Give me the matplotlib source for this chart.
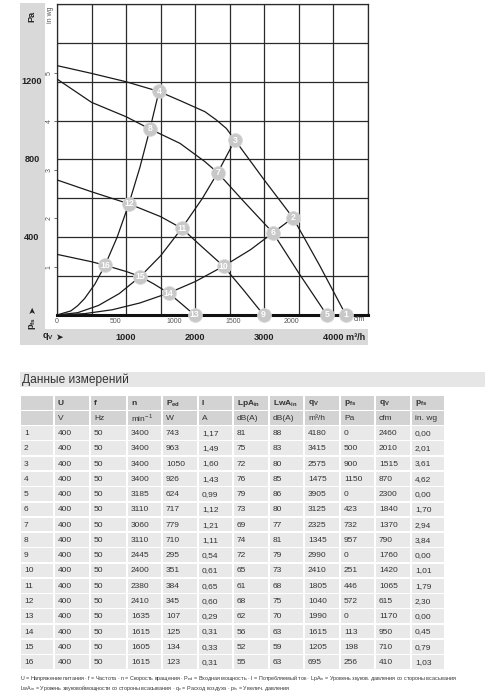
import numpy as np
import matplotlib
matplotlib.use("Agg")
import matplotlib.pyplot as plt
from matplotlib.patches import Rectangle
from matplotlib import font_manager

# --- measured operating points (table) ---
point_no = list(range(1, 17))
U_v = [400] * 16
f_hz = [50] * 16
n_rpm = [3400, 3400, 3400, 3400, 3185, 3110, 3060, 3110, 2445, 2400, 2380, 2410, 1635, 1615, 1605, 1615]
P_ed_w = [743, 963, 1050, 926, 624, 717, 779, 710, 295, 351, 384, 345, 107, 125, 134, 123]
I_a = [1.17, 1.49, 1.60, 1.43, 0.99, 1.12, 1.21, 1.11, 0.54, 0.61, 0.65, 0.60, 0.29, 0.31, 0.33, 0.31]
LpA_in = [81, 75, 72, 76, 79, 73, 69, 74, 72, 65, 61, 68, 62, 56, 52, 55]
LwA_in = [88, 83, 80, 85, 86, 80, 77, 81, 79, 73, 68, 75, 70, 63, 59, 63]
qv_m3h = [4180, 3415, 2575, 1475, 3905, 3125, 2325, 1345, 2990, 2410, 1805, 1040, 1990, 1615, 1205, 695]
pfs_pa = [0, 500, 900, 1150, 0, 423, 732, 957, 0, 251, 446, 572, 0, 113, 198, 256]
qv_cfm = [2460, 2010, 1515, 870, 2300, 1840, 1370, 790, 1760, 1420, 1065, 615, 1170, 950, 710, 410]
pfs_inwg = [0.00, 2.01, 3.61, 4.62, 0.00, 1.70, 2.94, 3.84, 0.00, 1.01, 1.79, 2.30, 0.00, 0.45, 0.79, 1.03]

# --- fan curves (m3/h, Pa) ---
fanA_q = [0, 500, 1000, 1475, 1800, 2140, 2300, 2450, 2575, 3000, 3415, 3800, 4180]
fanA_p = [1283, 1243, 1200, 1150, 1100, 1046, 1005, 960, 900, 694, 500, 255, 0]
fanB_q = [0, 500, 1000, 1345, 1780, 2140, 2325, 2700, 3125, 3500, 3905]
fanB_p = [1214, 1094, 1020, 957, 883, 789, 732, 585, 423, 215, 0]
fanC_q = [0, 500, 1040, 1500, 1805, 2100, 2410, 2700, 2990]
fanC_p = [695, 634, 572, 506, 446, 350, 251, 128, 0]
fanD_q = [0, 500, 695, 1008, 1205, 1400, 1615, 1800, 1990]
fanD_p = [312, 274, 256, 223, 198, 160, 113, 58, 0]

# --- system curves ---
sys1_q = [0, 200, 300, 400, 550, 695, 870, 1040, 1200, 1345, 1475]
sys1_p = [0, 21, 48, 85, 160, 256, 400, 572, 760, 957, 1150]
sys2_q = [0, 300, 600, 900, 1205, 1500, 1805, 2100, 2325, 2575]
sys2_p = [0, 12, 49, 110, 198, 305, 446, 598, 732, 900]
sys3_q = [0, 400, 800, 1200, 1615, 2000, 2410, 2800, 3125, 3415]
sys3_p = [0, 7, 27, 62, 113, 172, 251, 336, 423, 500]

names = {f.name for f in font_manager.fontManager.ttflist}
narrow = "Liberation Sans Narrow" in names
tab_font = "Liberation Sans Narrow" if narrow else "Liberation Sans"
tab_size = 7.2 if narrow else 6.0

plt.rcParams["font.family"] = ["Liberation Sans", "DejaVu Sans"]
plt.rcParams["mathtext.fontset"] = "custom"
plt.rcParams["mathtext.rm"] = "Liberation Sans"
plt.rcParams["mathtext.bf"] = "Liberation Sans:bold"

fig = plt.figure(figsize=(5, 7), dpi=100)

# overlay in pixel coordinates
ov = fig.add_axes([0, 0, 1, 1], zorder=3)
ov.set_xlim(0, 500)
ov.set_ylim(700, 0)
ov.axis("off")

band = "#d9d9d9"
ov.add_patch(Rectangle((20, 3), 25, 342, color=band, lw=0))
ov.add_patch(Rectangle((20, 329), 348, 16, color=band, lw=0))

# chart
ax = fig.add_axes([57 / 500, 1 - 315 / 700, 311 / 500, 311 / 700], zorder=2)
ax.set_xlim(0, 4500)
ax.set_ylim(0, 1600)
ax.set_xticks(np.arange(0, 4501, 500))
ax.set_yticks(np.arange(0, 1601, 200))
ax.grid(True, color="#2a2a2a", lw=0.9)
ax.tick_params(length=0, labelbottom=False, labelleft=False)
for s in ax.spines.values():
    s.set_color("#2a2a2a")
    s.set_linewidth(0.9)
ax.spines["bottom"].set_linewidth(2.2)
ax.spines["bottom"].set_color("#111")

lc = "#1a1a1a"
for q, p in [(fanA_q, fanA_p), (fanB_q, fanB_p), (fanC_q, fanC_p), (fanD_q, fanD_p),
             (sys1_q, sys1_p), (sys2_q, sys2_p), (sys3_q, sys3_p)]:
    ax.plot(q, p, color=lc, lw=0.9, zorder=3, solid_joinstyle="round")

ax.plot(qv_m3h, pfs_pa, "o", ms=10, mfc="#c8c8c8", mec="#d8d8d8", mew=0.5,
        zorder=5, clip_on=False)
for i, q, p in zip(point_no, qv_m3h, pfs_pa):
    ax.text(q, p, str(i), color="white", fontsize=6.3, fontweight="bold",
            ha="center", va="center", zorder=6, clip_on=False)

# secondary scales: cfm and in wg
secx = ax.secondary_xaxis("bottom", functions=(lambda q: q / 1.699, lambda c: c * 1.699))
secx.set_xticks([0, 500, 1000, 1500, 2000])
secx.tick_params(length=0, labelsize=5, labelcolor="#555", pad=2)
secx.spines["bottom"].set_visible(False)
ax.text(4370, -22, "cfm", fontsize=5, color="#555", ha="center", va="center", clip_on=False)

secy = ax.secondary_yaxis("left", functions=(lambda p: p / 249.09, lambda w: w * 249.09))
secy.set_yticks([1, 2, 3, 4, 5])
secy.tick_params(length=2, width=0.6, color="#555", labelsize=5, labelcolor="#555", pad=1)
for lab in secy.get_yticklabels():
    lab.set_rotation(90)
    lab.set_va("center")
secy.spines["left"].set_visible(False)
ov.text(51, 15, "in wg", rotation=90, fontsize=5, color="#555", ha="center", va="center")

# band labels
bl = dict(fontsize=6.6, fontweight="bold", color="#222", ha="center", va="center")
arrow = dict(fontsize=6.6, color="#222", ha="center", va="center", family="DejaVu Sans")
ov.text(32, 16, "Pa", rotation=90, **bl)
for val in [1200, 800, 400]:
    y = 315 - val * 311 / 1600
    ov.text(32, y, str(val), **bl)
ov.text(32, 323, "p$_\\mathbf{fs}$", rotation=90, **bl)
ov.text(32, 309, "➤", rotation=90, **arrow)
ov.text(48, 337, "q$_\\mathbf{V}$", **bl)
ov.text(60, 337, "➤", **arrow)
for val in [1000, 2000, 3000]:
    x = 57 + val * 311 / 4500
    ov.text(x, 337, str(val), **bl)
ov.text(365, 337, "4000 m³/h", fontsize=6.6, fontweight="bold", color="#222",
        ha="right", va="center")

# table
ov.add_patch(Rectangle((20, 372), 465, 15, color="#e6e6e6", lw=0))
ov.text(22, 379.5, "Данные измерений", fontsize=8.6, color="#333", ha="left", va="center")

col_x = [20, 54, 90, 127, 162, 198, 233, 269, 304, 340, 375, 411, 445]
head1 = ["", "U", "f", "n", "P$_\\mathbf{ed}$", "I", "LpA$_\\mathbf{in}$", "LwA$_\\mathbf{in}$",
         "q$_\\mathbf{V}$", "p$_\\mathbf{fs}$", "q$_\\mathbf{V}$", "p$_\\mathbf{fs}$"]
head2 = ["", "V", "Hz", "min$^{-1}$", "W", "A", "dB(A)", "dB(A)", "m³/h", "Pa", "cfm", "in. wg"]

rows = []
for k in range(16):
    rows.append([str(point_no[k]), str(U_v[k]), str(f_hz[k]), str(n_rpm[k]), str(P_ed_w[k]),
                 f"{I_a[k]:.2f}".replace(".", ","), str(LpA_in[k]), str(LwA_in[k]),
                 str(qv_m3h[k]), str(pfs_pa[k]), str(qv_cfm[k]),
                 f"{pfs_inwg[k]:.2f}".replace(".", ",")])

rh = 15.27
y_centers = [403, 418] + [433 + rh * k for k in range(16)]
all_rows = [head1, head2] + rows
for r, (yc, cells) in enumerate(zip(y_centers, all_rows)):
    fc = "#d3d3d3" if r < 2 else "#e9e9e9"
    for c in range(12):
        x0, x1 = col_x[c], col_x[c + 1]
        ov.add_patch(Rectangle((x0 + 0.8, yc - rh / 2 + 0.8), x1 - x0 - 1.6, rh - 1.6,
                               color=fc, lw=0))
        if cells[c]:
            ov.text(x0 + 4, yc + 0.5, cells[c], fontsize=tab_size, family=tab_font,
                    color="#333", ha="left", va="center",
                    fontweight="bold" if r == 0 else "normal")

foot1 = ("U = Напряжение питания · f = Частота · n = Скорость вращения · P$_\\mathrm{ed}$ = Входная мощность"
         " · I = Потребляемый ток · LpA$_\\mathrm{in}$ = Уровень звуков. давления со стороны всасывания")
foot2 = ("LwA$_\\mathrm{in}$ = Уровень звуковоймощности со стороны всасывания · q$_\\mathrm{v}$ = Расход воздуха"
         " · p$_\\mathrm{fs}$ = Увелич. давления")
ov.text(20, 678, foot1, fontsize=3.9, color="#333", ha="left", va="center")
ov.text(20, 688, foot2, fontsize=3.9, color="#333", ha="left", va="center")

fig.savefig("out.png", dpi=100)
